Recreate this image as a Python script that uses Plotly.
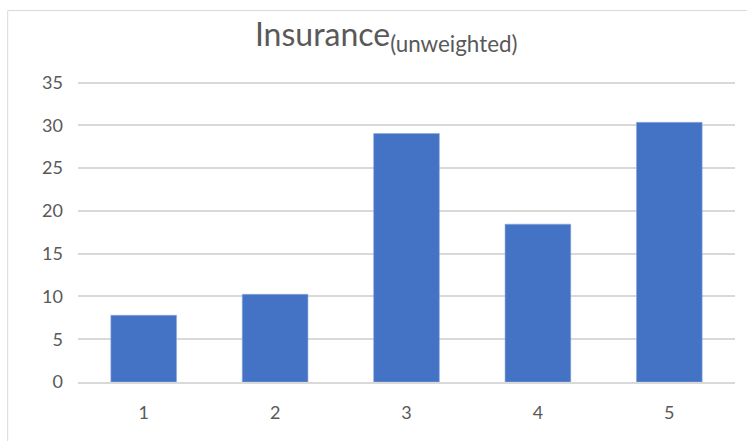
import plotly.graph_objects as go

categories = ["1", "2", "3", "4", "5"]
values = [7.8, 10.25, 29.05, 18.45, 30.35]
y_ticks = [0, 5, 10, 15, 20, 25, 30, 35]

fig = go.Figure()
fig.add_trace(go.Bar(
    x=categories, y=values,
    marker=dict(color="#4472C4", line=dict(color="#8FAADC", width=0.6)),
    width=0.5,
))

fig.update_layout(
    width=747, height=441,
    paper_bgcolor="white", plot_bgcolor="white",
    margin=dict(l=78, r=12, t=80, b=59, pad=0),
    showlegend=False,
    title=dict(
        text="Insurance<sub>(unweighted)</sub>",
        x=0.517, xanchor="center", y=0.922, yanchor="middle",
        font=dict(family="Lato, Open Sans, sans-serif", size=32, color="#595959"),
    ),
    font=dict(family="Lato, Open Sans, sans-serif", color="#595959"),
    bargap=0.5,
)
fig.update_xaxes(
    type="category", showgrid=False, showline=True, linecolor="#D9D9D9", linewidth=1.5,
    ticks="", tickfont=dict(size=18, color="#595959"), ticklabelstandoff=14,
)
fig.update_yaxes(
    range=[0, 35.3], tickvals=y_ticks, showgrid=True, gridcolor="#D9D9D9", gridwidth=1.5,
    zeroline=False, showline=False, ticks="",
    tickfont=dict(size=18, color="#595959"), ticklabelstandoff=14,
)
fig.add_shape(type="rect", xref="paper", yref="paper",
              x0=-0.107, x1=1.05, y0=-0.3, y1=1.23,
              line=dict(color="#D9D9D9", width=1), fillcolor="rgba(0,0,0,0)", layer="below")

fig.write_html("out.html", config={"displayModeBar": False},
               post_script="document.body.style.margin='0';document.body.style.overflow='hidden';")
